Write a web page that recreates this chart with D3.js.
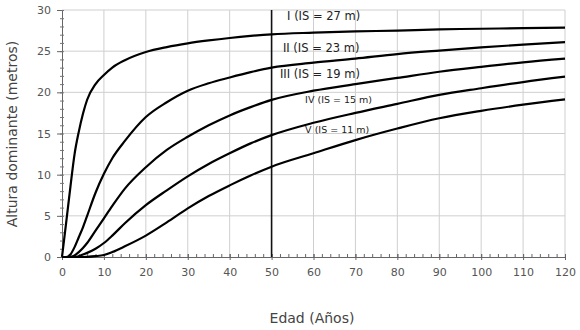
<!DOCTYPE html>
<html><head><meta charset="utf-8">
<script src="https://cdn.jsdelivr.net/npm/d3@7/dist/d3.min.js"></script>
<style>body{margin:0;background:#fff}svg{display:block}</style>
</head><body>
<svg id="c" width="580" height="330"></svg>
<script>
const ages = [0,1,2,3,4,5,6,8,10,12,15,20,25,30,35,40,45,50,60,70,80,90,100,110,120];
const siteI   = [0,4.2,8.5,12.5,15.2,17.4,19.1,21.0,22.1,23.0,23.9,24.9,25.5,25.95,26.3,26.6,26.85,27.05,27.25,27.4,27.5,27.65,27.72,27.8,27.86];
const siteII  = [0,0,0.3,1.2,2.4,3.6,5.0,7.8,10.1,12.0,14.1,17.0,18.8,20.2,21.1,21.8,22.45,23.0,23.6,24.1,24.65,25.07,25.45,25.8,26.1];
const siteIII = [0,0,0,0.2,0.6,1.1,1.7,3.2,4.7,6.2,8.3,10.9,13.0,14.6,16.0,17.2,18.2,19.08,20.2,21.0,21.75,22.5,23.1,23.65,24.1];
const siteIV  = [0,0,0,0,0.1,0.3,0.5,1.0,1.7,2.6,4.1,6.3,8.1,9.8,11.3,12.6,13.8,14.8,16.3,17.5,18.6,19.7,20.5,21.25,21.9];
const siteV   = [0,0,0,0,0,0,0.02,0.1,0.24,0.6,1.3,2.6,4.2,5.9,7.4,8.7,9.9,10.97,12.6,14.2,15.6,16.85,17.75,18.5,19.15];
const seriesLabels = ["I (IS = 27 m)","II (IS = 23 m)","III (IS = 19 m)","IV (IS = 15 m)","V (IS = 11 m)"];
const labelAnchors = [[53.7,28.8],[52.7,24.9],[52,21.7],[58,18.7],[58,15.1]];
const labelBig = [true,true,true,false,false];
const xTicks = [0,10,20,30,40,50,60,70,80,90,100,110,120];
const yTicks = [0,5,10,15,20,25,30];
const refAge = 50;
const xTitle = "Edad (Años)";
const yTitle = "Altura dominante (metros)";

const svg = d3.select("#c");
const x = d3.scaleLinear().domain([0,120]).range([62,565]);
const y = d3.scaleLinear().domain([0,30]).range([257,10]);
const font = "'DejaVu Sans', sans-serif";

// grid
svg.append("g").selectAll("line").data(xTicks.slice(1)).join("line")
  .attr("x1",d=>x(d)).attr("x2",d=>x(d)).attr("y1",y(0)).attr("y2",y(30))
  .attr("stroke","#cfcfcf").attr("stroke-width",1);
svg.append("g").selectAll("line").data(yTicks.slice(1)).join("line")
  .attr("x1",x(0)).attr("x2",x(120)).attr("y1",d=>y(d)).attr("y2",d=>y(d))
  .attr("stroke","#cfcfcf").attr("stroke-width",1);

// axes
const xAxis = svg.append("g").attr("transform",`translate(0,${y(0)})`)
  .call(d3.axisBottom(x).tickValues(d3.range(0,121,2)).tickSize(0).tickFormat(""));
xAxis.select(".domain").attr("stroke","#666");
xAxis.selectAll(".tick line").attr("y1",-3).attr("y2",0).attr("stroke","#666");
const xAxisMaj = svg.append("g").attr("transform",`translate(0,${y(0)})`)
  .call(d3.axisBottom(x).tickValues(xTicks).tickSize(3).tickPadding(8).tickFormat(d=>d));
xAxisMaj.select(".domain").remove();
xAxisMaj.selectAll(".tick line").attr("y1",-3).attr("stroke","#666");
xAxisMaj.selectAll("text").attr("font-family",font).attr("font-size",11).attr("fill","#555");

const yAxis = svg.append("g").attr("transform",`translate(${x(0)},0)`)
  .call(d3.axisLeft(y).tickValues(d3.range(0,31,1)).tickSize(2).tickFormat(""));
yAxis.select(".domain").attr("stroke","#666");
yAxis.selectAll(".tick line").attr("x2",-2).attr("x1",2).attr("stroke","#777");
const yAxisMaj = svg.append("g").attr("transform",`translate(${x(0)},0)`)
  .call(d3.axisLeft(y).tickValues(yTicks).tickSize(5).tickPadding(6).tickFormat(d=>d));
yAxisMaj.select(".domain").remove();
yAxisMaj.selectAll(".tick line").attr("stroke","#666");
yAxisMaj.selectAll("text").attr("font-family",font).attr("font-size",11).attr("fill","#555");

// reference line
svg.append("line").attr("x1",x(refAge)).attr("x2",x(refAge)).attr("y1",y(30)).attr("y2",y(0))
  .attr("stroke","#111").attr("stroke-width",1.6);

// curves
const all = [siteI,siteII,siteIII,siteIV,siteV];
const line = d3.line().x((d,i)=>x(ages[i])).y(d=>y(d)).curve(d3.curveMonotoneX);
svg.append("g").selectAll("path").data(all).join("path")
  .attr("d",line).attr("fill","none").attr("stroke","#000").attr("stroke-width",2.2)
  .attr("stroke-linejoin","round");

// labels
svg.append("g").selectAll("text").data(seriesLabels).join("text")
  .attr("x",(d,i)=>x(labelAnchors[i][0])).attr("y",(d,i)=>y(labelAnchors[i][1]))
  .attr("font-family",font).attr("font-size",(d,i)=>labelBig[i]?11.5:9.5)
  .attr("fill","#222").text(d=>d);

// titles
svg.append("text").attr("x",312).attr("y",323).attr("text-anchor","middle")
  .attr("font-family",font).attr("font-size",14).attr("fill","#444").text(xTitle);
svg.append("text").attr("transform","translate(17,134) rotate(-90)").attr("text-anchor","middle")
  .attr("font-family",font).attr("font-size",14).attr("fill","#444").text(yTitle);
</script>
</body></html>
